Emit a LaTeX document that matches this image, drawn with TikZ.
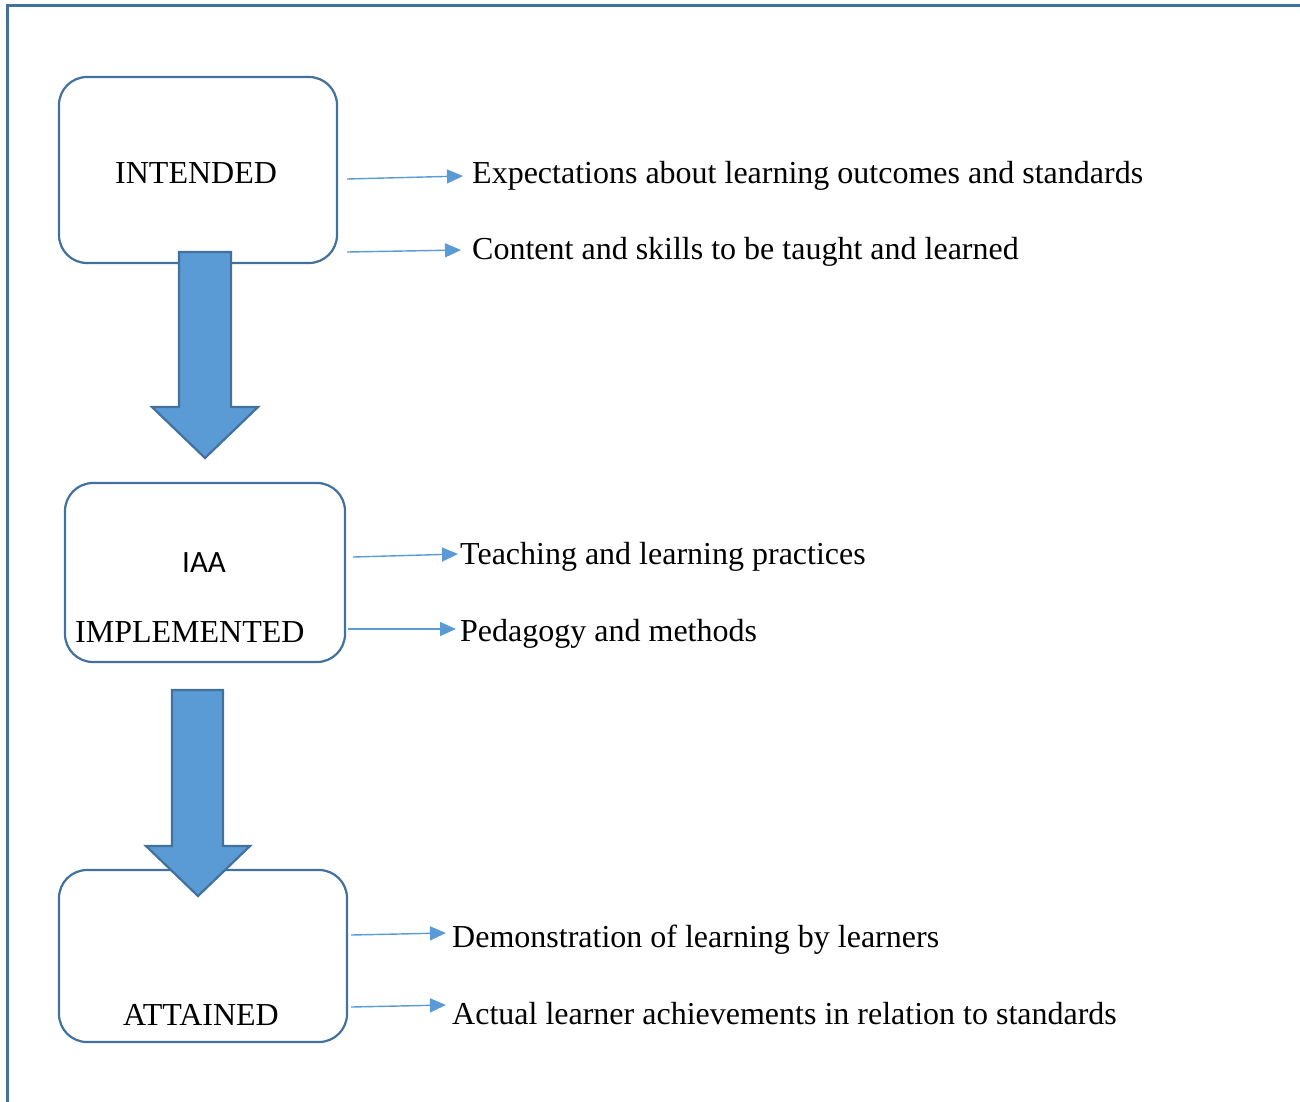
\documentclass[tikz,border=0pt]{standalone}
\usepackage{fontspec}
\setmainfont{Liberation Serif}
\newfontfamily\labelsans{Carlito}
\usetikzlibrary{arrows.meta}
\definecolor{frameblue}{HTML}{41719C}
\definecolor{fillblue}{HTML}{5B9BD5}
\tikzset{
  stage/.style={draw=frameblue, line width=2.2pt, rounded corners=28pt, fill=white},
  bigarrow/.style={draw=frameblue, line width=2.2pt, fill=fillblue, line join=miter},
  pointer/.style={draw=fillblue, line width=1.4pt, -{Triangle[length=16pt,width=14pt]}},
  note/.style={anchor=base west, inner sep=0pt, font=\fontsize{32}{38}\selectfont},
  stagetext/.style={anchor=base west, inner sep=0pt, font=\fontsize{32}{38}\selectfont}
}
\begin{document}
\begin{tikzpicture}[x=1pt,y=-1pt]
\useasboundingbox (0,0) rectangle (1300,1101);
% outer frame (only top and left edges fall inside the page)
\draw[frameblue, line width=3pt] (7,1110) -- (7,5) -- (1310,5);

% stage boxes
\draw[stage] (59,77) rectangle (337,263);
\draw[stage] (65,483) rectangle (345,662);
\draw[stage] (59,870) rectangle (347,1042);
\coordinate (intended) at (198,170);
\coordinate (implemented) at (205,572);
\coordinate (attained) at (203,956);

% stage labels
\node[stagetext] (tIntended) at (115,183) {INTENDED};
\node[anchor=base west, inner sep=0pt, font=\labelsans\fontsize{31}{36}\selectfont] (tIAA) at (182,572) {IAA};
\node[stagetext] (tImplemented) at (75,642) {IMPLEMENTED};
\node[stagetext] (tAttained) at (123,1025) {ATTAINED};

% block arrows between stages
\draw[bigarrow] (179,252) -- (231,252) -- (231,407) -- (258,407) -- (205,458)
  -- (152,407) -- (179,407) -- cycle;
\draw[bigarrow] (172,690) -- (223,690) -- (223,846) -- (250,846) -- (198,896)
  -- (146,846) -- (172,846) -- cycle;

% descriptions
\node[note] (d1) at (472,183) {Expectations about learning outcomes and standards};
\node[note] (d2) at (472,259) {Content and skills to be taught and learned};
\node[note] (d3) at (460,564) {Teaching and learning practices};
\node[note] (d4) at (460,641) {Pedagogy and methods};
\node[note] (d5) at (452,947) {Demonstration of learning by learners};
\node[note] (d6) at (452,1024) {Actual learner achievements in relation to standards};

% pointer start and end points
\coordinate (s1) at (347,179); \coordinate (e1) at (463,176);
\coordinate (s2) at (347,252); \coordinate (e2) at (461,250);
\coordinate (s3) at (353,557); \coordinate (e3) at (458,554);
\coordinate (s4) at (348,629); \coordinate (e4) at (456,629);
\coordinate (s5) at (351,935); \coordinate (e5) at (446,933);
\coordinate (s6) at (351,1007); \coordinate (e6) at (446,1005);

\draw[pointer] (s1) -- (e1);
\draw[pointer] (s2) -- (e2);
\draw[pointer] (s3) -- (e3);
\draw[pointer] (s4) -- (e4);
\draw[pointer] (s5) -- (e5);
\draw[pointer] (s6) -- (e6);
\end{tikzpicture}
\end{document}
